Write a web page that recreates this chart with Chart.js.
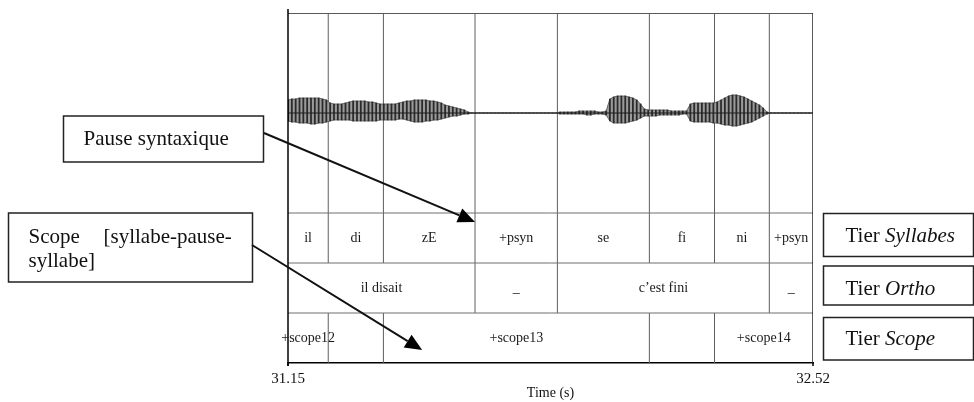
<!DOCTYPE html>
<html><head><meta charset="utf-8">
<script src="https://cdn.jsdelivr.net/npm/chart.js@4/dist/chart.umd.min.js"></script>
<style>html,body{margin:0;padding:0;background:#fff;}#wrap{width:974px;height:402px;position:relative;}</style>
</head><body><div id="wrap"><canvas id="c" width="974" height="402"></canvas></div>
<script>
// ---------- data ----------
const timeRange = [31.15, 32.52];
const tickLabels = ["31.15", "32.52"];
const axisTitle = "Time (s)";
const sampleStart = 31.15;
const sampleStep = 0.01;
// waveform envelope (arbitrary amplitude units), one value per 10 ms
const envelopeUpper = [
 13,14,14,15,15,15,15,15,15,14,13,
 10,9,9,9,10,11,12,12,12,12,
 11,11,10,9,9,9,9,9,10,11,
 12,12,13,13,13,13,12,12,11,10,
 8,7,6,5,4,3,1,
 0,0,0,0,0,0,0,0,0,0,0,0,0,0,0,0,0,0,0,0,0,0,0,
 1,1,1,1,1,2,2,2,2,2,1,1,2,
 14,16,17,17,17,16,15,13,9,
 4,3,3,3,3,3,3,2,2,2,2,2,
 9,10,10,10,10,10,10,11,
 13,15,17,18,18,17,16,14,12,10,8,5,1,
 0,0,0,0,0,0,0,0,0,0,0,0
];
const envelopeLower = [
 8,9,9,10,10,10,11,11,10,10,9,
 8,7,7,7,7,7,8,8,8,8,
 8,8,8,7,7,7,7,7,6,6,
 7,8,9,9,9,8,8,7,7,6,
 5,4,3,3,2,1,1,
 0,0,0,0,0,0,0,0,0,0,0,0,0,0,0,0,0,0,0,0,0,0,0,
 1,1,1,1,1,1,1,2,2,1,1,1,2,
 8,10,10,10,10,9,8,7,5,
 3,3,3,3,2,2,2,2,2,2,1,1,
 8,9,9,9,9,9,10,10,
 11,12,12,13,13,12,11,10,9,7,5,3,1,
 0,0,0,0,0,0,0,0,0,0,0,0
];
const syllableBounds = [31.15, 31.255, 31.399, 31.638, 31.853, 32.093, 32.263, 32.406, 32.52];
const syllableLabels = ["il", "di", "zE", "+psyn", "se", "fi", "ni", "+psyn"];
const orthoBounds = [31.15, 31.638, 31.853, 32.406, 32.52];
const orthoLabels = ["il disait", "_", "c\u2019est fini", "_"];
const scopeBounds = [31.15, 31.255, 31.399, 32.093, 32.263, 32.52];
const scopeLabels = ["+scope12", "", "+scope13", "", "+scope14"];
const tierNames = [["Tier ", "Syllabes"], ["Tier ", "Ortho"], ["Tier ", "Scope"]];
const noteLabels = ["Pause syntaxique", ["Scope", "[syllabe-pause-", "syllabe]"]];
const arrowTargets = [{x: 31.638, y: 2.82}, {x: 31.50, y: 0.26}];

// ---------- layout (value rows of the y scale) ----------
const Y = {scope: [0, 1], ortho: [1, 2], syll: [2, 3], wave: [3, 7], waveCenter: 5, ampScale: 0.02};
const SERIF = '"Liberation Serif", "Times New Roman", serif';

const times = envelopeUpper.map((_, i) => +(sampleStart + i * sampleStep).toFixed(3));
const upperPts = times.map((t, i) => ({x: t, y: Y.waveCenter + envelopeUpper[i] * Y.ampScale}));
const lowerPts = times.map((t, i) => ({x: t, y: Y.waveCenter - envelopeLower[i] * Y.ampScale}));
const barPts = times.map((t, i) => ({x: t, y: [Y.waveCenter - envelopeLower[i] * Y.ampScale, Y.waveCenter + envelopeUpper[i] * Y.ampScale]}));

function vlines(bounds, y0, y1) {
  const pts = [];
  bounds.slice(1, -1).forEach(b => { pts.push({x: b, y: y0}, {x: b, y: y1}, {x: b, y: null}); });
  return pts;
}
const hPts = [];
[Y.syll[1], Y.ortho[1], Y.scope[1]].forEach(v => { hPts.push({x: timeRange[0], y: v}, {x: timeRange[1], y: v}, {x: timeRange[1], y: null}); });

const line = (data, color, width, order, extra) => Object.assign({type: 'line', data, borderColor: color, borderWidth: width, pointRadius: 0, fill: false, tension: 0, spanGaps: false, order}, extra || {});

const datasets = [
  line(hPts, '#6e6e6e', 1, 5),
  line([{x: timeRange[0], y: Y.wave[1]}, {x: timeRange[1], y: Y.wave[1]}], '#5a5a5a', 2, 4),
  line(vlines(syllableBounds, Y.syll[0], Y.wave[1]), '#5e5e5e', 1, 5),
  line(vlines(orthoBounds, Y.ortho[0], Y.ortho[1]), '#5e5e5e', 1, 5),
  line(vlines(scopeBounds, Y.scope[0], Y.scope[1]), '#5e5e5e', 1, 5),
  line([{x: timeRange[1], y: Y.scope[0]}, {x: timeRange[1], y: Y.wave[1]}], '#222', 1.5, 3),
  line(upperPts, 'rgba(70,70,70,0.9)', 0.8, 2),
  line(lowerPts, 'rgba(70,70,70,0.9)', 0.8, 2, {fill: '-1', backgroundColor: '#9a9a9a'}),
  {type: 'bar', data: barPts, backgroundColor: '#2a2a2a', barThickness: 1.1, order: 1, grouped: false},
  line([{x: timeRange[0], y: Y.waveCenter}, {x: timeRange[1], y: Y.waveCenter}], '#1e1e1e', 1, 0)
];

function drawArrow(ctx, x0, y0, x1, y1) {
  const ang = Math.atan2(y1 - y0, x1 - x0), L = 17, W = 7.5;
  const bx = x1 - L * Math.cos(ang), by = y1 - L * Math.sin(ang);
  ctx.strokeStyle = '#111'; ctx.lineWidth = 2;
  ctx.beginPath(); ctx.moveTo(x0, y0); ctx.lineTo(bx, by); ctx.stroke();
  ctx.fillStyle = '#000';
  ctx.beginPath();
  ctx.moveTo(x1, y1);
  ctx.lineTo(bx + W * Math.sin(ang), by - W * Math.cos(ang));
  ctx.lineTo(bx - W * Math.sin(ang), by + W * Math.cos(ang));
  ctx.closePath(); ctx.fill();
}

const annotPlugin = {
  id: 'annot',
  afterDraw(chart) {
    const ctx = chart.ctx, xs = chart.scales.x, ys = chart.scales.y, ca = chart.chartArea;
    ctx.save();
    // left axis line and tick marks
    ctx.strokeStyle = '#000'; ctx.lineWidth = 1.5;
    ctx.beginPath(); ctx.moveTo(ca.left, ca.top - 4); ctx.lineTo(ca.left, ca.bottom + 3); ctx.stroke();
    timeRange.forEach(v => {
      const x = xs.getPixelForValue(v);
      ctx.beginPath(); ctx.moveTo(x, ca.bottom); ctx.lineTo(x, ca.bottom + 3); ctx.stroke();
    });
    // tier labels
    ctx.fillStyle = '#1a1a1a'; ctx.font = '14px ' + SERIF; ctx.textAlign = 'center'; ctx.textBaseline = 'middle';
    const tiers = [[syllableBounds, syllableLabels, Y.syll], [orthoBounds, orthoLabels, Y.ortho], [scopeBounds, scopeLabels, Y.scope]];
    tiers.forEach(([b, labs, rng]) => {
      labs.forEach((s, i) => {
        if (!s) return;
        const x = (xs.getPixelForValue(b[i]) + xs.getPixelForValue(b[i + 1])) / 2;
        ctx.fillText(s, x, ys.getPixelForValue((rng[0] + rng[1]) / 2));
      });
    });
    // annotation boxes
    ctx.strokeStyle = '#222'; ctx.lineWidth = 1.5; ctx.fillStyle = '#111';
    ctx.textAlign = 'left'; ctx.textBaseline = 'alphabetic';
    ctx.font = '21px ' + SERIF;
    ctx.strokeRect(63.5, 116, 200, 46);
    ctx.fillText(noteLabels[0], 83.5, 145);
    ctx.strokeRect(8.5, 213, 244, 69);
    ctx.fillText(noteLabels[1][0], 28.5, 242.5);
    ctx.fillText(noteLabels[1][1], 103.5, 242.5);
    ctx.fillText(noteLabels[1][2], 28.5, 266.5);
    // tier name boxes
    const tb = [[213.5, 256.5, 241.5], [266, 305, 294.5], [317.5, 360, 345]];
    tierNames.forEach((n, i) => {
      const [t, b, base] = tb[i];
      ctx.strokeRect(823.5, t, 150, b - t);
      ctx.font = '21px ' + SERIF;
      ctx.fillText(n[0], 845.5, base);
      const w = ctx.measureText(n[0]).width;
      ctx.font = 'italic 21px ' + SERIF;
      ctx.fillText(n[1], 845.5 + w, base);
    });
    // arrows
    drawArrow(ctx, 264, 133, xs.getPixelForValue(arrowTargets[0].x), ys.getPixelForValue(arrowTargets[0].y));
    drawArrow(ctx, 252, 245, xs.getPixelForValue(arrowTargets[1].x), ys.getPixelForValue(arrowTargets[1].y));
    ctx.restore();
  }
};

new Chart(document.getElementById('c'), {
  type: 'line',
  data: {datasets},
  plugins: [annotPlugin],
  options: {
    responsive: false, animation: false, events: [],
    layout: {padding: {left: 288, right: 161, top: 13, bottom: 0}},
    plugins: {legend: {display: false}, tooltip: {enabled: false}},
    scales: {
      x: {
        type: 'linear', min: timeRange[0], max: timeRange[1], offset: false,
        afterBuildTicks: s => { s.ticks = timeRange.map(v => ({value: v})); },
        afterFit: s => { s.height = 39; },
        ticks: {autoSkip: false, maxRotation: 0, padding: -1, color: '#111',
          font: {family: SERIF, size: 15},
          callback: (v, i) => tickLabels[i]},
        grid: {display: false},
        border: {display: true, color: '#000', width: 1.5},
        title: {display: true, text: axisTitle, color: '#111', font: {family: SERIF, size: 14}, padding: {top: 0, bottom: 0}}
      },
      y: {type: 'linear', min: 0, max: 7, display: false}
    }
  }
});
</script></body></html>
